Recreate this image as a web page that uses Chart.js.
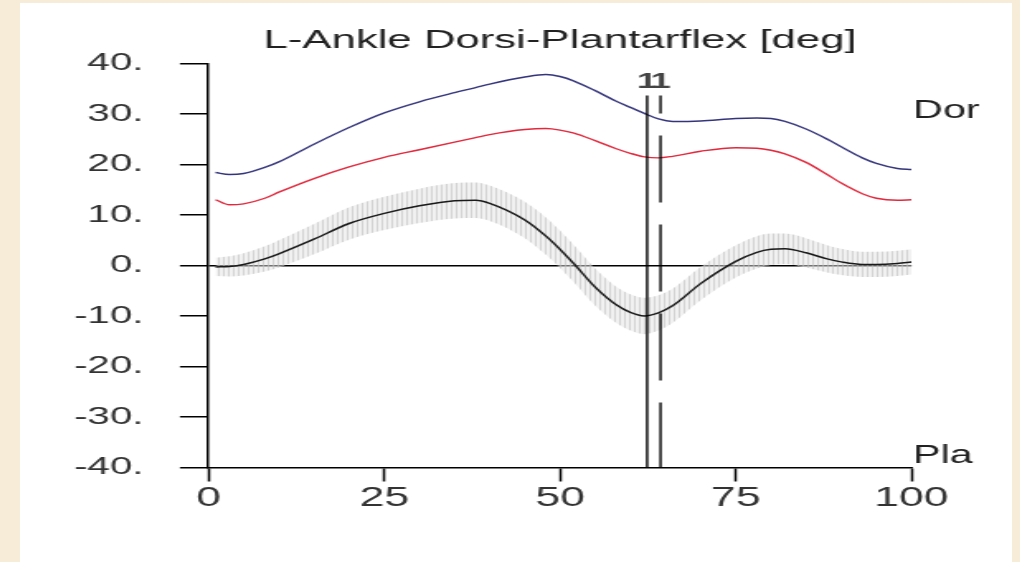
<!DOCTYPE html>
<html>
<head>
<meta charset="utf-8">
<script src="https://cdn.jsdelivr.net/npm/chart.js@4/dist/chart.umd.min.js"></script>
<style>
  html, body { margin: 0; padding: 0; background: #f6ecd7; overflow: hidden; }
  #panel { position: absolute; left: 20px; top: 3px; width: 992px; height: 559px; background: #fff; }
  /* the original picture is stretched sideways, so the chart is too */
  #wrap { position: absolute; left: 0; top: 0; width: 601px; height: 559px; transform: scaleX(1.6506); transform-origin: 0 0; }
</style>
</head>
<body>
<div id="panel"><div id="wrap"><canvas id="myChart"></canvas></div></div>
<script>
// % of gait cycle
const pct = [1, 3, 5, 8, 10, 15, 20, 25, 30, 35, 38, 40, 45, 48, 50, 52, 55, 58, 60, 62, 64, 66, 70, 75, 78, 80, 82, 85, 88, 90, 93, 95, 98, 100];
// upper (blue) and lower (red) curves
const blueVals = [18.4, 18.0, 18.2, 19.4, 20.5, 24.0, 27.3, 30.2, 32.4, 34.2, 35.2, 35.9, 37.3, 37.8, 37.4, 36.5, 34.6, 32.5, 31.3, 30.1, 29.0, 28.5, 28.6, 29.1, 29.2, 29.1, 28.5, 27.0, 25.0, 23.5, 21.3, 20.2, 19.2, 19.0];
const redVals = [13.0, 12.0, 12.2, 13.3, 14.5, 17.2, 19.5, 21.4, 22.9, 24.4, 25.3, 25.9, 26.9, 27.1, 26.8, 26.2, 24.7, 23.1, 22.2, 21.5, 21.3, 21.6, 22.6, 23.3, 23.2, 22.8, 22.1, 20.4, 18.0, 16.3, 14.2, 13.3, 12.9, 13.0];
// normal mean and its spread (grey band)
const meanVals = [-0.3, -0.2, 0.2, 1.3, 2.3, 5.2, 8.3, 10.3, 11.8, 12.8, 12.9, 12.3, 9.0, 5.8, 3.2, 0.3, -4.3, -7.8, -9.3, -10.0, -9.4, -8.0, -3.6, 0.8, 2.6, 3.2, 3.3, 2.5, 1.3, 0.7, 0.2, 0.2, 0.4, 0.7];
const sdVals = [1.8, 2.0, 2.2, 2.5, 2.7, 3.0, 3.2, 3.3, 3.4, 3.5, 3.5, 3.5, 3.6, 3.7, 3.7, 3.7, 3.7, 3.6, 3.6, 3.6, 3.5, 3.4, 3.3, 3.2, 3.2, 3.1, 3.0, 2.9, 2.7, 2.6, 2.5, 2.5, 2.5, 2.5];
// event markers: foot off (solid) and second one (dashed)
const eventPos = [62.4, 64.3];
const eventLabels = ['1', '1'];
const xTicks = [0, 25, 50, 75, 100];
const yTicks = [-40, -30, -20, -10, 0, 10, 20, 30, 40];

const FONT = 'Liberation Sans, Arial, sans-serif';

const pts = (vals) => pct.map((x, i) => ({ x: x, y: vals[i] }));
const upper = pts(meanVals.map((m, i) => m + sdVals[i]));
const lower = pts(meanVals.map((m, i) => m - sdVals[i]));

// hatch pattern for the band
const pc = document.createElement('canvas');
pc.width = 3; pc.height = 1;
const pg = pc.getContext('2d');
pg.fillStyle = 'rgba(228,228,228,0.5)';
pg.fillRect(0, 0, 3, 1);
pg.fillStyle = 'rgba(192,192,192,0.6)';
pg.fillRect(0, 0, 1, 1);
const hatch = pg.createPattern(pc, 'repeat');

const markers = {
  id: 'markers',
  afterDatasetsDraw(chart) {
    const { ctx, chartArea, scales } = chart;
    const xs = scales.x;
    ctx.save();
    ctx.strokeStyle = '#000';
    ctx.lineWidth = 1.4;
    const top = chartArea.top + 32;
    eventPos.forEach((v, i) => {
      const px = xs.getPixelForValue(v);
      ctx.beginPath();
      if (i === 1) { ctx.setLineDash([67, 22]); ctx.lineDashOffset = 49; }
      else ctx.setLineDash([]);
      ctx.moveTo(px, top);
      ctx.lineTo(px, chartArea.bottom);
      ctx.stroke();
      ctx.setLineDash([]);
      ctx.fillStyle = '#444';
      ctx.font = 'bold 22px ' + FONT;
      ctx.textAlign = 'center';
      ctx.textBaseline = 'alphabetic';
      ctx.fillText(eventLabels[i], px, chartArea.top + 24.5);
    });
    ctx.fillStyle = '#222';
    ctx.font = '25px ' + FONT;
    ctx.textAlign = 'left';
    ctx.fillText('Dor', chartArea.right + 1, chartArea.top + 54.5);
    ctx.fillText('Pla', chartArea.right + 1, chartArea.bottom - 4.5);
    ctx.restore();
  }
};

const ctx = document.getElementById('myChart').getContext('2d');
new Chart(ctx, {
  type: 'line',
  data: {
    datasets: [
      { data: pts(meanVals), borderColor: '#1a1a1a', borderWidth: 1.5 },
      { data: pts(blueVals), borderColor: '#34347c', borderWidth: 1.4 },
      { data: pts(redVals), borderColor: '#e2283c', borderWidth: 1.4 },
      { data: upper, borderWidth: 0, borderColor: 'rgba(0,0,0,0)', backgroundColor: hatch, fill: '+1' },
      { data: lower, borderWidth: 0, borderColor: 'rgba(0,0,0,0)' }
    ]
  },
  options: {
    responsive: true,
    maintainAspectRatio: false,
    animation: false,
    events: [],
    layout: { padding: { left: 0, right: 60.9, top: 0, bottom: 0 } },
    elements: {
      point: { radius: 0 },
      line: { cubicInterpolationMode: 'monotone' }
    },
    plugins: {
      legend: { display: false },
      tooltip: { enabled: false },
      title: {
        display: true,
        fullSize: false,
        text: 'L-Ankle Dorsi-Plantarflex [deg]',
        color: '#222',
        font: { family: FONT, size: 26.5, weight: 'normal', lineHeight: 1.75 },
        padding: { top: 14, bottom: 0 }
      }
    },
    scales: {
      x: {
        type: 'linear',
        min: 0, max: 100,
        afterBuildTicks: (s) => { s.ticks = xTicks.map(v => ({ value: v })); },
        afterFit: (s) => { s.height = 94.5; },
        ticks: { color: '#333', font: { family: FONT, size: 27 }, padding: 1, maxRotation: 0 },
        grid: { drawOnChartArea: false, drawTicks: true, tickLength: 14, tickColor: '#000', tickWidth: 1.5 },
        border: { display: true, color: '#000', width: 1.5 }
      },
      y: {
        min: -40, max: 40,
        afterBuildTicks: (s) => { s.ticks = yTicks.map(v => ({ value: v })); },
        afterFit: (s) => { s.width = 114.2; },
        ticks: { color: '#333', font: { family: FONT, size: 24.5 }, padding: 22, callback: (v) => v + '.' },
        grid: {
          drawOnChartArea: true,
          color: (c) => (c.tick && c.tick.value === 0 ? '#000' : 'rgba(0,0,0,0)'),
          lineWidth: 1.5,
          tickLength: 17.3, tickColor: '#000', tickWidth: 1.5
        },
        border: { display: true, color: '#000', width: 1.5 }
      }
    }
  },
  plugins: [markers]
});
</script>
</body>
</html>
